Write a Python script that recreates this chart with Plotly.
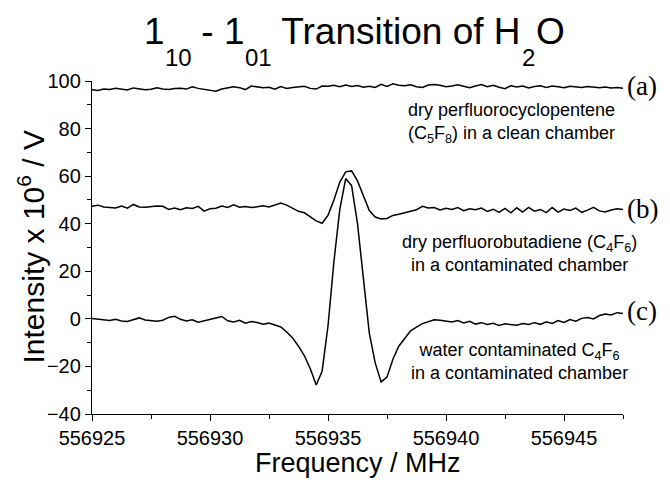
import plotly.graph_objects as go

# sampling grid of the spectra (MHz)
f_start = 556925.0
f_step = 0.25
n_pts = 91
freq = [f_start + i * f_step for i in range(n_pts)]

# (a) dry perfluorocyclopentene, clean chamber
sig_a = [96.3, 96.0, 96.6, 96.4, 96.9, 96.5, 96.2, 97.1, 96.7, 96.3,
         96.5, 97.2, 96.6, 96.4, 96.8, 97.0, 96.6, 97.6, 96.9, 96.5,
         96.0, 95.7, 96.6, 97.0, 97.6, 97.2, 96.4, 97.9, 97.5, 97.2,
         97.4, 96.6, 97.7, 96.9, 97.3, 97.6, 97.8, 96.9, 96.6, 97.9,
         97.8, 98.2, 97.6, 98.3, 97.7, 98.1, 97.4, 97.8, 97.3, 98.6,
         97.7, 98.8, 98.2, 98.0, 98.4, 97.6, 97.3, 98.3, 98.5, 98.2,
         97.6, 97.9, 98.4, 97.8, 97.2, 97.9, 98.5, 97.6, 98.2, 97.4,
         96.8, 98.0, 97.5, 97.9, 97.1, 97.7, 98.0, 97.3, 97.9, 97.6,
         97.2, 97.8, 97.5, 97.3, 97.7, 97.4, 97.2, 97.5, 97.1, 97.3,
         97.0]

# (b) dry perfluorobutadiene, contaminated chamber
sig_b = [47.3, 47.8, 47.0, 46.9, 46.6, 47.4, 46.5, 48.1, 47.0, 46.9,
         47.2, 47.4, 47.3, 46.0, 46.6, 45.9, 46.7, 46.4, 47.3, 45.3,
         46.3, 46.5, 47.4, 46.8, 47.9, 46.9, 47.2, 46.8, 47.1, 47.5,
         47.0, 47.8, 48.7, 47.8, 46.5, 45.2, 44.6, 43.0, 41.2, 40.2,
         43.5, 50.0, 57.5, 61.8, 62.2, 58.0, 51.5, 45.5, 42.8, 42.0,
         42.2, 43.5, 44.0, 44.6, 45.4, 45.9, 47.3, 46.6, 46.8, 45.8,
         46.5, 46.0, 46.8, 45.5, 46.3, 45.9, 46.6, 45.2, 46.1, 44.8,
         46.4, 44.6, 46.7, 44.9, 46.9, 45.3, 46.0, 44.7, 46.8, 44.9,
         46.2, 45.6, 46.6, 44.8, 45.7, 46.9, 45.4, 44.9, 45.8, 46.3,
         46.0]

# (c) water contaminated C4F6, contaminated chamber
sig_c = [0.2, 0.0, -0.4, -0.7, -0.2, -0.9, -1.1, -0.3, 0.4, -0.5,
         -0.8, -1.0, -0.6, 0.6, 1.1, -0.2, -0.9, -0.4, -1.4, -0.7,
         -0.3, 0.4, 1.0, -0.8, -1.3, -0.6, -1.8, -1.1, -1.5, -2.3,
         -1.8, -2.6, -3.4, -5.5, -8.0, -11.5, -15.5, -21.0, -27.8, -22.0,
         -3.0, 24.0, 46.0, 59.0, 56.0, 40.0, 16.0, -6.0, -18.5, -26.5,
         -24.5, -17.0, -11.5, -8.0, -5.0, -3.5, -2.0, -1.2, -0.4, -0.6,
         -1.0, -1.3, -0.7, -1.7, -1.0, -2.2, -1.6, -2.4, -1.9, -2.8,
         -2.1, -2.5, -2.7, -2.0, -2.4, -1.6, -2.3, -1.2, -1.9, -0.7,
         -1.5, -0.3, -1.0, 0.2, 0.6, 0.0, 1.4, 2.0, 1.6, 2.6,
         2.2]

x_range = [556925, 556947.5]
y_range = [-40, 100]
x_tick_step = 5
y_tick_step = 20

labels_abc = ["(a)", "(b)", "(c)"]
label_y = [98, 46, 3.5]
notes = [
    "dry perfluorocyclopentene<br>(C<sub>5</sub>F<sub>8</sub>) in a clean chamber",
    "dry perfluorobutadiene (C<sub>4</sub>F<sub>6</sub>)<br>in a contaminated chamber",
    "water contaminated C<sub>4</sub>F<sub>6</sub><br>in a contaminated chamber",
]
note_x = [0.79, 0.806, 0.806]
note_y = [82.5, 27.5, -18]

# title pieces: (text, is_subscript)
title_parts = [("1", False), ("10", True), (" - 1", False), ("01", True),
               (" Transition of H", False), ("2", True), ("O", False)]
x_title = "Frequency / MHz"
y_title = "Intensity x 10<sup>6</sup> / V"

SANS = "Arial, 'Liberation Sans', sans-serif"
SERIF = "'Times New Roman', 'Liberation Serif', serif"

W, H = 670, 480
ML, MR, MT, MB = 92, 47, 81, 66
PW, PH = W - ML - MR, H - MT - MB


def px_to_paper_x(px):
    return (px - ML) / PW


def px_to_paper_y(py):
    return (H - MB - py) / PH


fig = go.Figure()
for s in (sig_a, sig_b, sig_c):
    fig.add_trace(go.Scatter(x=freq, y=s, mode="lines",
                             line=dict(color="black", width=1.5),
                             showlegend=False, hoverinfo="skip"))

for lab, yv in zip(labels_abc, label_y):
    fig.add_annotation(x=1.004, xref="paper", y=yv, yref="y", text=lab,
                       showarrow=False, xanchor="left", yanchor="middle",
                       font=dict(family=SERIF, size=27, color="black"))

for txt, xv, yv in zip(notes, note_x, note_y):
    fig.add_annotation(x=xv, xref="paper", y=yv, yref="y", text=txt,
                       showarrow=False, xanchor="center", yanchor="middle",
                       align="center",
                       font=dict(family=SANS, size=18, color="black"))

# title built from pieces (Arial advance widths) so subscripts sit low
ADV = {"1": .556, "0": .556, "2": .556, " ": .278, "-": .333, "T": .611,
       "r": .333, "a": .556, "n": .556, "s": .5, "i": .222, "t": .278,
       "o": .556, "f": .278, "H": .722, "O": .778}
MAIN, SUB = 37, 24
MAIN_BASE, SUB_BASE = 45, 67
cx = 143.0
for txt, is_sub in title_parts:
    size = SUB if is_sub else MAIN
    base = SUB_BASE if is_sub else MAIN_BASE
    width = sum(ADV[c] for c in txt) * size
    fig.add_annotation(x=px_to_paper_x(cx), xref="paper",
                       y=px_to_paper_y(base + 0.212 * size), yref="paper",
                       text=txt.replace(" ", "&nbsp;"), showarrow=False,
                       xanchor="left", yanchor="bottom", borderpad=0,
                       font=dict(family=SANS, size=size, color="black"))
    cx += width

fig.add_annotation(x=0.5, xref="paper", y=px_to_paper_y(463), yref="paper",
                   text=x_title, showarrow=False, xanchor="center",
                   yanchor="middle",
                   font=dict(family=SANS, size=27, color="black"))
fig.add_annotation(x=px_to_paper_x(31), xref="paper", y=0.5, yref="paper",
                   text=y_title, showarrow=False, xanchor="center",
                   yanchor="middle", textangle=-90,
                   font=dict(family=SANS, size=30, color="black"))

fig.update_layout(
    width=W, height=H,
    margin=dict(l=ML, r=MR, t=MT, b=MB),
    paper_bgcolor="white", plot_bgcolor="white",
    font=dict(family=SANS, color="black"),
)

fig.update_xaxes(range=x_range, tick0=x_range[0], dtick=x_tick_step,
                 tickformat="d", showgrid=False, zeroline=False,
                 showline=True, linecolor="black", linewidth=1.3,
                 ticks="outside", ticklen=6, tickwidth=1.3, tickcolor="black",
                 minor=dict(ticks="outside", ticklen=3.5, dtick=x_tick_step / 2,
                            tickcolor="black", tickwidth=1.3, showgrid=False),
                 tickfont=dict(size=20, family=SANS, color="black"))
fig.update_yaxes(range=y_range, tick0=y_range[0], dtick=y_tick_step,
                 showgrid=False, zeroline=False,
                 showline=True, linecolor="black", linewidth=1.3,
                 ticks="outside", ticklen=6, tickwidth=1.3, tickcolor="black",
                 minor=dict(ticks="outside", ticklen=3.5, dtick=y_tick_step / 2,
                            tickcolor="black", tickwidth=1.3, showgrid=False),
                 tickfont=dict(size=20, family=SANS, color="black"))

fig.write_html("out.html")
